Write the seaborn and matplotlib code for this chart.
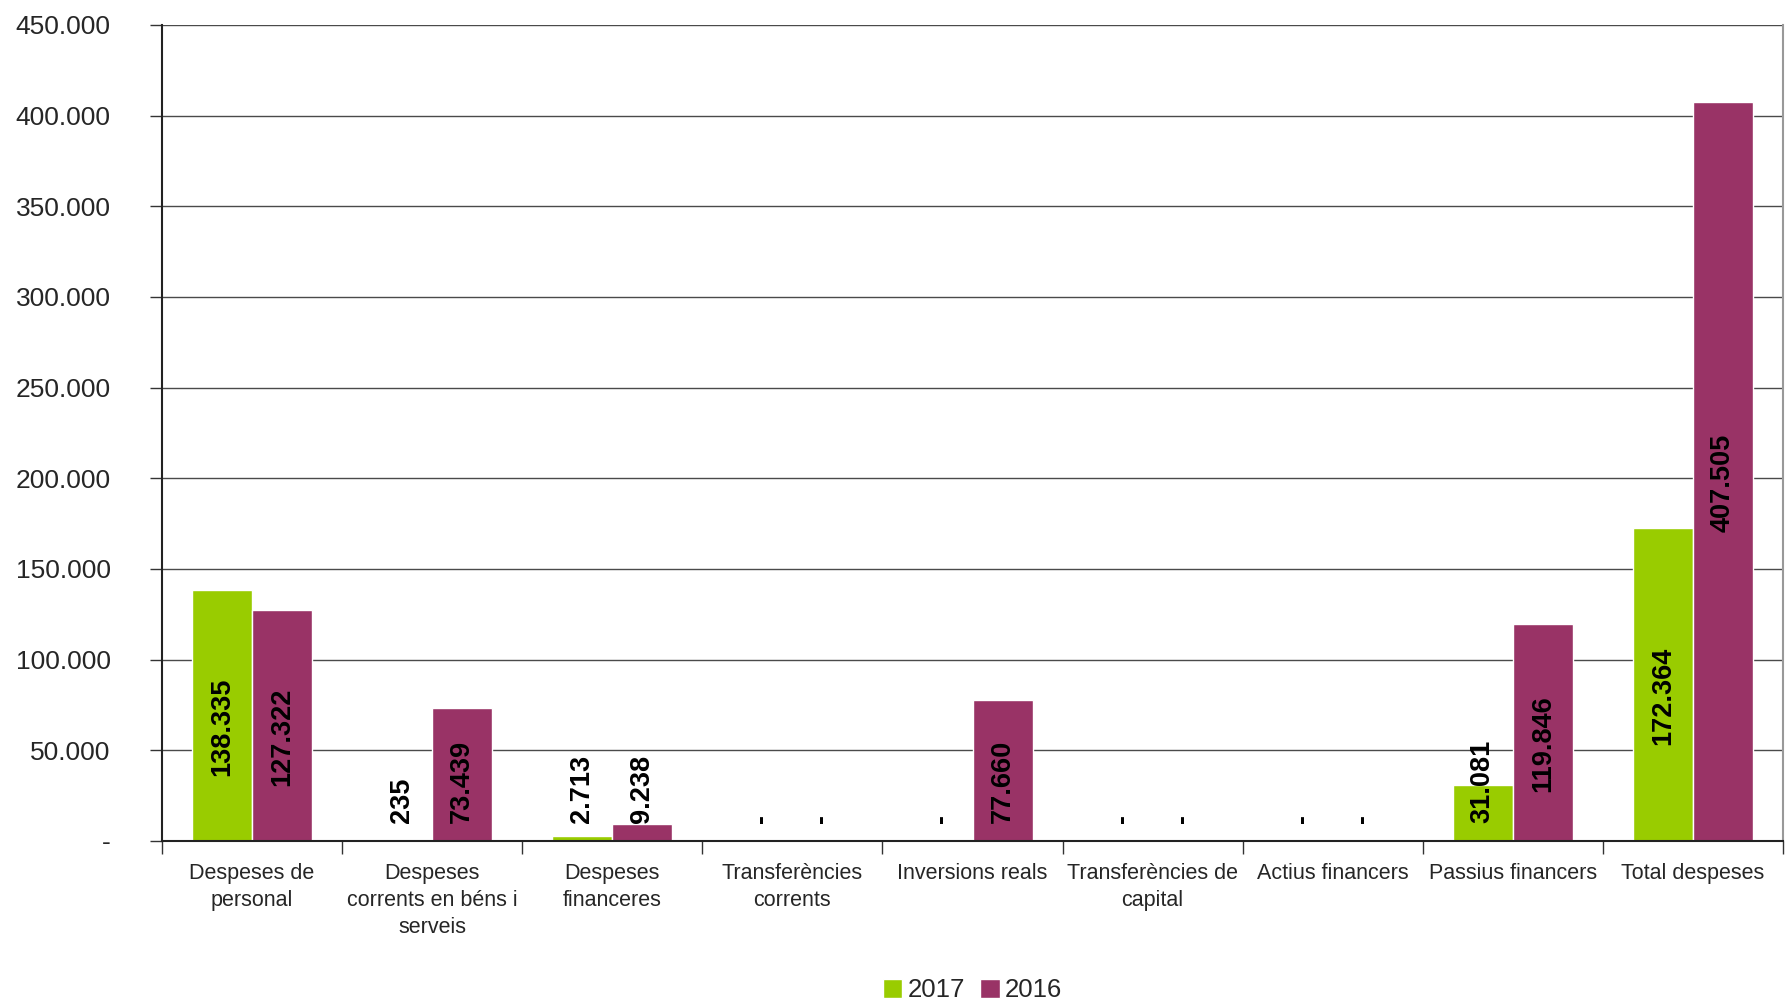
import pandas as pd
import numpy as np
import matplotlib
matplotlib.use('Agg')
import matplotlib.pyplot as plt
import seaborn as sns
from matplotlib.ticker import FuncFormatter, FixedLocator

# data
categories = ['Despeses de\npersonal', 'Despeses\ncorrents en béns i\nserveis', 'Despeses\nfinanceres',
              'Transferències\ncorrents', 'Inversions reals', 'Transferències de\ncapital',
              'Actius financers', 'Passius financers', 'Total despeses']
years = ['2017', '2016']
values_2017 = [138335, 235, 2713, 0, 0, 0, 0, 31081, 172364]
values_2016 = [127322, 73439, 9238, 0, 77660, 0, 0, 119846, 407505]
colors = ['#99CC00', '#993366']

df = pd.DataFrame({
    'categoria': categories * 2,
    'any': ['2017'] * len(categories) + ['2016'] * len(categories),
    'valor': values_2017 + values_2016,
})

sns.set_style('white')
plt.rcParams['font.family'] = ['Liberation Sans', 'DejaVu Sans']

fig = plt.figure(figsize=(17.85, 10.01), dpi=100)
ax = fig.add_axes([162 / 1785, 160 / 1001, 1621 / 1785, 816 / 1001])

sns.barplot(data=df, x='categoria', y='valor', hue='any', hue_order=years,
            palette=colors, saturation=1, width=2 / 3, gap=0, ax=ax, legend=True)

ax.set_ylim(0, 450000)
ax.set_xlim(-0.5, len(categories) - 0.5)
ax.set_yticks(np.arange(0, 450001, 50000))


def fmt(v, pos):
    if v == 0:
        return '-'
    return f'{int(v):,}'.replace(',', '.')


ax.yaxis.set_major_formatter(FuncFormatter(fmt))
ax.yaxis.grid(True, color='#4a4a4a', linewidth=1)
ax.set_axisbelow(True)
ax.tick_params(axis='y', which='major', length=9, width=1, color='#333333',
               labelsize=19, pad=28, left=True)

# category boundaries as minor ticks, labels at centers
ax.xaxis.set_minor_locator(FixedLocator(np.arange(-0.5, len(categories), 1)))
ax.tick_params(axis='x', which='minor', length=9, width=1, color='#333333', bottom=True)
ax.tick_params(axis='x', which='major', length=0, labelsize=15.5, pad=16)
for lab in ax.get_xticklabels():
    lab.set_linespacing(1.38)

ax.set_xlabel('')
ax.set_ylabel('')
for side in ['left', 'bottom']:
    ax.spines[side].set_color('#222222')
    ax.spines[side].set_linewidth(1.5)
ax.spines['right'].set_color('#999999')
ax.spines['right'].set_linewidth(1.5)
ax.spines['top'].set_visible(False)

# data labels
per_char = 3700
for ci, series in enumerate([values_2017, values_2016]):
    for i, v in enumerate(series):
        x = i + (ci - 0.5) * (1 / 3)
        s = '-' if v == 0 else f'{v:,}'.replace(',', '.')
        half = len(s) * per_char
        yc = v / 2 - 6000
        if yc - half < 10500:
            ax.text(x, 10000, s, rotation=90, ha='center', va='bottom',
                    fontsize=19.5, fontweight='bold', color='black')
        else:
            ax.text(x, yc, s, rotation=90, ha='center', va='center',
                    fontsize=19.5, fontweight='bold', color='black')

leg = ax.legend(loc='center', bbox_to_anchor=(0.5, -0.183), ncol=2, frameon=False,
                fontsize=18.5, handlelength=0.75, handleheight=0.75, handletextpad=0.2,
                columnspacing=0.6)

fig.savefig('out.png', dpi=100)
